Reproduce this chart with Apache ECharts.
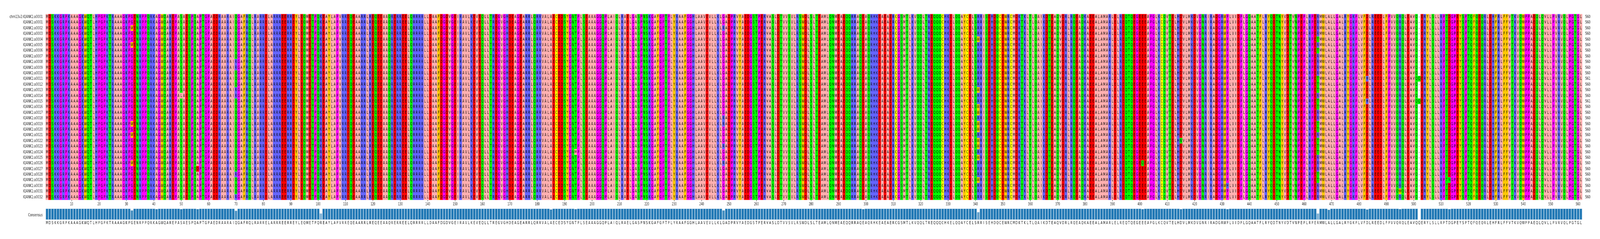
<!doctype html>
<html>
<head>
<meta charset="utf-8">
<title>IQANK1 alignment</title>
<style>
	html, body { margin: 0; padding: 0; background: #fff; overflow: hidden; }
	#main { width: 5888px; height: 611px; transform-origin: 0 0; }
</style>
<script src="https://cdn.jsdelivr.net/npm/echarts@6/dist/echarts.min.js"></script>
</head>
<body>
<div id="main"></div>
<script>
	// consensus letters, 561 columns
	var consensusSeq =
		"MDSKKGRPKAAAGKWQTLHPGPKTRAAAGKPGENRPPQRKAGWQAREPASAESPQAPTGPAEDRAARAIQ" +
		"GAFRQLRARRELARRREERREYLEQMETPQREAYLAPVRREQEAARRLREQEEAAQRERREELQRRRRLL" +
		"DAAFDGDVGEIRAVLKEVEQLLTREGVGHDEAGEARRLQRRVALAECEDSYGNTPLSEAAAGGQPLAIQL" +
		"RAELGASPNSKGAFGPTPLYRAAFGGHLAAVEVLLKLGADPRVYAEDGSTPERVASLDTVVSVLRSWDLS" +
		"LTEAMLQNMEAEQQRRAQEAQRHKEAEAERCGSMTLKVQQLTREQQQCHKELQQAYCELSRRISEHDQCE" +
		"WRCMDKTKLTLQAIKDTEAQVDRLRQEAQKAEEALAMARLELREQTQEGEEEAPGLKCQVTELHDVLMKD" +
		"VGNRIRADGRWPLVIDPLGQAATFLRYQDTNYVDTVNPEPLRPERMWLALLGALRYGKPLVFDLREEDLF" +
		"PVVQRQLEAVQQERYLSLLRPTDGPEYSPTQFQEQRLEHFRLFFVTKVQWPPAEQLQVLLPVRVQLPGTGL";

	// rows that differ from the consensus: [column (1-based), letter, row indexes]
	var variants = [
		[32, "W", [2, 5, 19, 21, 26]],
		[41, "M", [27]],
		[50, "L", [14]],
		[56, "D", [27]],
		[70, "R", [8, 9, 13, 14, 28, 32]],
		[101, "K", [0, 1, 4, 6, 7, 11, 17, 18, 20, 23, 29, 30, 31, 32]],
		[185, "V", [7, 27]],
		[194, "M", [24]],
		[248, "R", [2, 18, 19, 23, 26]],
		[299, "D", [20]],
		[341, "W", [4, 13, 16, 17, 19, 20, 22, 23, 25, 29]],
		[401, "Q", [26]],
		[415, "N", [22]],
		[432, "H", [30]],
		[465, "T", [4, 6, 11, 12, 13, 15, 16, 19, 20, 22, 23, 24, 28, 29]],
		[469, "V", [8, 10, 32]],
		[483, "H", [11, 15]],
		[495, "W", [31]],
		[502, "-", [0, 1, 2, 3, 4, 5, 6, 7, 8, 9, 10, 12, 13, 14, 16, 17, 18, 19, 20, 21, 22, 23, 24, 25, 26, 27, 28, 29, 30, 31, 32]],
		[513, "N", [29]]
	];

	var seqNames = ["chm13v2:IQANK1:a0001",
		"IQANK1:a0001", "IQANK1:a0002", "IQANK1:a0003", "IQANK1:a0004", "IQANK1:a0005", "IQANK1:a0006",
		"IQANK1:a0007", "IQANK1:a0008", "IQANK1:a0009", "IQANK1:a0010", "IQANK1:a0011", "IQANK1:a0012",
		"IQANK1:a0013", "IQANK1:a0014", "IQANK1:a0015", "IQANK1:a0016", "IQANK1:a0017", "IQANK1:a0018",
		"IQANK1:a0019", "IQANK1:a0020", "IQANK1:a0021", "IQANK1:a0022", "IQANK1:a0023", "IQANK1:a0024",
		"IQANK1:a0025", "IQANK1:a0026", "IQANK1:a0027", "IQANK1:a0028", "IQANK1:a0029", "IQANK1:a0030",
		"IQANK1:a0031", "IQANK1:a0032"];

	// Zappo residue colours
	var zappo = {
		A: "#ffafaf", V: "#ffafaf", L: "#ffafaf", I: "#ffafaf", M: "#ffafaf",
		F: "#ffc800", W: "#ffc800", Y: "#ffc800",
		K: "#6464ff", R: "#6464ff", H: "#6464ff",
		D: "#ff0000", E: "#ff0000",
		S: "#00ff00", T: "#00ff00", N: "#00ff00", Q: "#00ff00",
		G: "#ff00ff", P: "#ff00ff",
		C: "#ffff00",
		"-": "#ffffff"
	};

	var letterFont = '11px "DejaVu Sans Condensed", "DejaVu Sans"';
	var nameFont = '"DejaVu Sans Condensed", "DejaVu Sans"';
	var tickFont = '"Liberation Sans Narrow", "DejaVu Sans Condensed"';

	// the browser window can be narrower than the 5888 wide drawing, squeeze the whole chart to fit
	var main = document.getElementById("main");
	main.style.transform = "scaleX(" + Math.min(1, window.innerWidth / 5888) + ")";

	// build the rows from consensus + variants
	var consensusLetters = consensusSeq.split("");
	var rows = seqNames.map(function () { return consensusLetters.slice(); });
	variants.forEach(function (v) {
		v[2].forEach(function (r) { rows[r][v[0] - 1] = v[1]; });
	});

	var cells = [];
	rows.forEach(function (row, r) {
		row.forEach(function (ch, c) { cells.push([c, r]); });
	});

	// length of each row without gaps, shown on the right
	var seqLengths = rows.map(function (row) {
		return String(row.filter(function (ch) { return ch != "-"; }).length);
	});

	// share of rows that agree with the consensus; a column that is mostly gap counts 0
	var identity = consensusLetters.map(function (ch, c) {
		var same = 0, gaps = 0;
		rows.forEach(function (row) {
			if (row[c] == ch) same++;
			if (row[c] == "-") gaps++;
		});
		return gaps > same ? 0 : same / rows.length;
	});

	var positions = consensusLetters.map(function (ch, c) { return String(c + 1); });

	function everyTenth(index) { return (index + 1) % 10 == 0; }

	// tick marks under the last row, one per labelled column
	var tickCols = [];
	positions.forEach(function (p, c) {
		if (everyTenth(c)) tickCols.push([c, rows.length - 1]);
	});

	var chart = echarts.init(main, null, { renderer: "canvas" });
	chart.setOption({
		animation: false,
		backgroundColor: "#fff",
		grid: [
			{ left: 168, top: 36, width: 5654.5, height: 475 },
			{ left: 168, top: 533, width: 5654.5, height: 29 },
			{ left: 168, top: 535.5, width: 5654.5, height: 29 } // only holds the "Consensus" label
		],
		xAxis: [
			{
				type: "category", gridIndex: 0, data: positions, position: "bottom",
				axisLine: { show: false }, axisTick: { show: false },
				axisLabel: { show: true, interval: everyTenth, margin: 6, fontSize: 10, color: "#222", fontFamily: tickFont }
			},
			{
				type: "category", gridIndex: 1, data: consensusLetters, position: "bottom",
				axisLine: { show: false }, axisTick: { show: false },
				axisLabel: { show: true, interval: 0, hideOverlap: false, margin: 3, fontSize: 11, color: "#111", fontFamily: nameFont }
			},
			{ type: "category", gridIndex: 2, data: [""], show: false }
		],
		yAxis: [
			{
				type: "category", gridIndex: 0, data: seqNames, inverse: true, position: "left",
				axisLine: { show: false }, axisTick: { show: false },
				axisLabel: { interval: 0, margin: 11, fontSize: 11, color: "#222", fontFamily: nameFont }
			},
			{
				type: "category", gridIndex: 0, data: seqLengths, inverse: true, position: "right",
				axisLine: { show: false }, axisTick: { show: false },
				axisLabel: { interval: 0, margin: 11.5, fontSize: 11, color: "#222", fontFamily: nameFont }
			},
			{ type: "value", gridIndex: 1, min: 0, max: 1, show: false },
			{
				type: "category", gridIndex: 2, data: ["Consensus"], position: "left",
				axisLine: { show: false }, axisTick: { show: false },
				axisLabel: { margin: 11, fontSize: 11, color: "#222", fontFamily: nameFont }
			}
		],
		series: [
			{
				type: "custom",
				xAxisIndex: 0,
				yAxisIndex: 0,
				silent: true,
				progressive: 0,
				data: cells,
				encode: { x: 0, y: 1 },
				renderItem: function (params, api) {
					var col = api.value(0), row = api.value(1);
					var ch = rows[row][col];
					var c = api.coord([col, row]);
					var s = api.size([1, 1]);
					return {
						type: "group",
						children: [
							{
								type: "rect",
								shape: { x: c[0] - s[0] / 2 - 0.2, y: c[1] - s[1] / 2 - 0.2, width: s[0] + 0.4, height: s[1] + 0.4 },
								style: { fill: zappo[ch] }
							},
							{
								type: "text",
								style: { text: ch, x: c[0], y: c[1], align: "center", verticalAlign: "middle", fill: "#000", font: letterFont }
							}
						]
					};
				}
			},
			{
				type: "custom",
				xAxisIndex: 0,
				yAxisIndex: 0,
				silent: true,
				clip: false,
				data: tickCols,
				encode: { x: 0, y: 1 },
				renderItem: function (params, api) {
					var c = api.coord([api.value(0), api.value(1)]);
					var s = api.size([1, 1]);
					var bottom = c[1] + s[1] / 2;
					return {
						type: "line",
						shape: { x1: c[0], y1: bottom, x2: c[0], y2: bottom + 3.5 },
						style: { stroke: "#333", lineWidth: 1.2 }
					};
				}
			},
			{
				type: "bar",
				xAxisIndex: 1,
				yAxisIndex: 2,
				silent: true,
				barWidth: "100%",
				data: identity.map(function (v) {
					return { value: v, itemStyle: { opacity: v } };
				}),
				itemStyle: { color: "#1f77b4", borderColor: "#cfe2f0", borderWidth: 1 }
			}
		]
	});
</script>
</body>
</html>
